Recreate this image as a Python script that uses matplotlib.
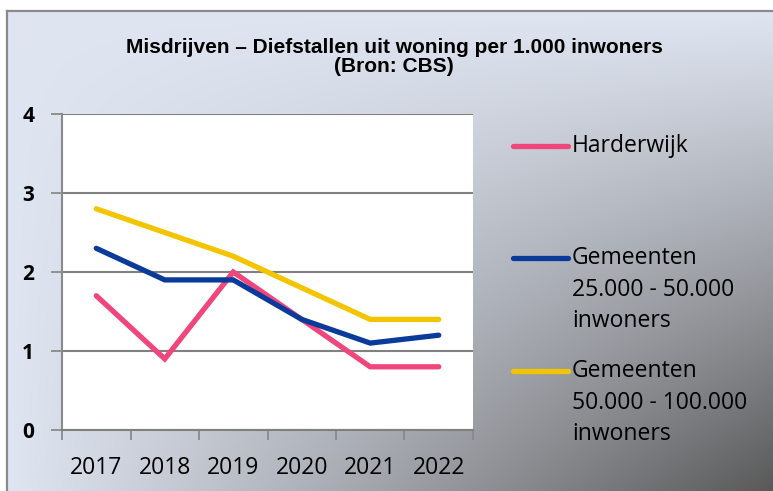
import numpy as np
import matplotlib.pyplot as plt
from matplotlib.lines import Line2D

years = ['2017', '2018', '2019', '2020', '2021', '2022']
harderwijk = [1.7, 0.9, 2.0, 1.4, 0.8, 0.8]
gem_25_50 = [2.3, 1.9, 1.9, 1.4, 1.1, 1.2]
gem_50_100 = [2.8, 2.5, 2.2, 1.8, 1.4, 1.4]

series_labels = ['Harderwijk',
                 'Gemeenten\n25.000 - 50.000\ninwoners',
                 'Gemeenten\n50.000 - 100.000\ninwoners']
series_colors = ['#f0467c', '#0a3a9a', '#f2c500']
yticks = [0, 1, 2, 3, 4]

W, H = 773, 491
fig = plt.figure(figsize=(W / 100, H / 100), dpi=100)
fig.patch.set_facecolor('white')

# gradient background (light top-left, dark bottom-right corner)
bg = fig.add_axes([7 / W, 0, 1 - 7 / W, 1 - 11 / H], zorder=-10)
u = np.linspace(0, 1, 300)[None, :]
v = np.linspace(0, 1, 200)[:, None]
t = (u * v) ** 1.05
light = np.array([0.875, 0.898, 0.945])
dark = np.array([0.35, 0.35, 0.35])
img = light[None, None, :] * (1 - t[..., None]) + dark[None, None, :] * t[..., None]
bg.imshow(img, aspect='auto', extent=[0, 1, 0, 1], origin='upper')
bg.set_xlim(0, 1)
bg.set_ylim(0, 1)
bg.axis('off')
fig.add_artist(Line2D([7 / W, 7 / W], [0, 1 - 11 / H], transform=fig.transFigure,
                      color='#8a8a8a', lw=1.6))
fig.add_artist(Line2D([7 / W, 1], [1 - 11 / H, 1 - 11 / H], transform=fig.transFigure,
                      color='#8a8a8a', lw=1.6))

ax = fig.add_axes([62 / W, 1 - 430 / H, (473 - 62) / W, (430 - 114) / H])
ax.set_facecolor('white')
x = np.arange(len(years))
for vals, col in zip([harderwijk, gem_25_50, gem_50_100], series_colors):
    ax.plot(x, vals, color=col, lw=3.8, solid_capstyle='round', solid_joinstyle='miter', zorder=3)

ax.set_xlim(-0.5, len(years) - 0.5)
ax.set_ylim(0, 4)
ax.set_yticks(yticks)
ax.set_yticklabels([str(y) for y in yticks], fontsize=15, fontweight='bold', family='Open Sans')
ax.set_xticks(x)
ax.set_xticklabels(years, fontsize=16.5, family='Open Sans')
ax.set_xticks(np.arange(-0.5, len(years)), minor=True)
ax.tick_params(axis='x', which='major', length=0, pad=19)
ax.tick_params(axis='x', which='minor', length=7, width=1.3, color='#8a8a8a', direction='out')
ax.tick_params(axis='y', length=8, width=1.3, color='#8a8a8a', pad=12)
ax.grid(axis='y', color='#808080', lw=1.5)
ax.set_axisbelow(True)
for s in ['top', 'right']:
    ax.spines[s].set_visible(False)
ax.spines['left'].set_color('#8a8a8a')
ax.spines['left'].set_linewidth(1.5)
ax.spines['bottom'].set_color('#808080')
ax.spines['bottom'].set_linewidth(1.5)

fig.text(394 / W, 1 - 57 / H, 'Misdrijven \u2013 Diefstallen uit woning per 1.000 inwoners\n(Bron: CBS)',
         ha='center', va='center', fontsize=15, fontweight='bold',
         family='Liberation Sans', linespacing=1.0)

# legend, handle aligned to the first text line
leg_y = [146, 258, 371]
for lab, col, yy in zip(series_labels, series_colors, leg_y):
    fig.add_artist(Line2D([513 / W, 568 / W], [1 - yy / H, 1 - yy / H], transform=fig.transFigure,
                          color=col, lw=3.8, solid_capstyle='round'))
    fig.text(572 / W, 1 - (yy - 12) / H, lab, ha='left', va='top', fontsize=16.5,
             family='Open Sans', linespacing=1.42)

fig.savefig('out.png', dpi=100)
